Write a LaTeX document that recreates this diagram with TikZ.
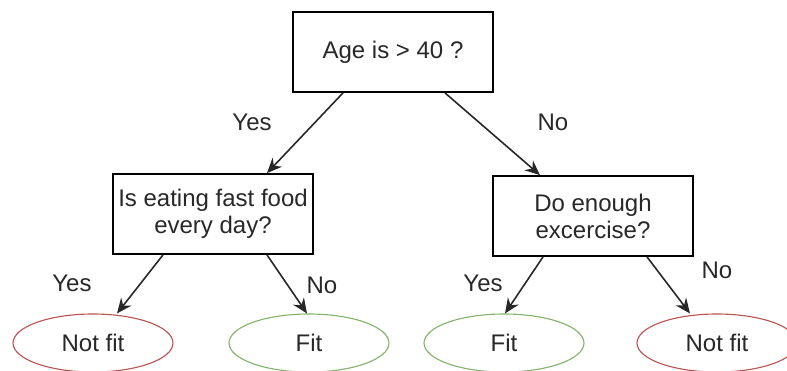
\documentclass[tikz,border=0pt]{standalone}
\usepackage{fontspec}
\setmainfont{Liberation Sans}
\usetikzlibrary{shapes.geometric,arrows.meta}

\definecolor{txtgray}{RGB}{40,40,40}
\definecolor{fitgreen}{RGB}{130,179,102}
\definecolor{notfitred}{RGB}{184,84,80}

\tikzset{
  question/.style={draw=black, line width=1.8pt, fill=white, minimum width=200pt,
    minimum height=80pt, inner sep=0pt, align=center, text=txtgray},
  leaf/.style={ellipse, draw, line width=1.1pt, fill=white, minimum width=160pt,
    minimum height=58pt, inner sep=0pt, text=txtgray},
  answer/.style={text=txtgray},
  arr/.style={draw=txtgray, line width=1.6pt, -{Stealth[length=15pt,width=13pt,inset=5pt]}}
}

\begin{document}
\begin{tikzpicture}[x=1pt, y=-1pt, font=\fontsize{24}{27}\selectfont]
  \useasboundingbox (0,0) rectangle (787,370);

  \node[question] (age) at (393,52) {Age is > 40 ?};
  \node[question] (food) at (213,214) {Is eating fast food\\every day?};
  \node[question] (sport) at (593,216) {Do enough\\excercise?};

  \node[leaf, draw=notfitred] (notfitA) at (93,343) {Not fit};
  \node[leaf, draw=fitgreen] (fitA) at (309,343) {Fit};
  \node[leaf, draw=fitgreen] (fitB) at (504,343) {Fit};
  \node[leaf, draw=notfitred] (notfitB) at (717,343) {Not fit};

  \draw[arr] ([xshift=-50pt]age.south) -- ([xshift=54pt]food.north);
  \draw[arr] ([xshift=52pt]age.south) -- ([xshift=-53pt]sport.north);

  \draw[arr] ([xshift=-50pt]food.south) -- ([xshift=24pt]notfitA.north);
  \draw[arr] ([xshift=54pt]food.south) -- ([xshift=-2pt]fitA.north);
  \draw[arr] ([xshift=-50pt]sport.south) -- ([xshift=1pt]fitB.north);
  \draw[arr] ([xshift=54pt]sport.south) -- ([xshift=-27pt]notfitB.north);

  \node[answer] (yesA) at (252,122) {Yes};
  \node[answer] (noA) at (553,122) {No};
  \node[answer] (yesB) at (72,283) {Yes};
  \node[answer] (noB) at (322,285) {No};
  \node[answer] (yesC) at (483,283) {Yes};
  \node[answer] (noC) at (717,270) {No};
\end{tikzpicture}
\end{document}
